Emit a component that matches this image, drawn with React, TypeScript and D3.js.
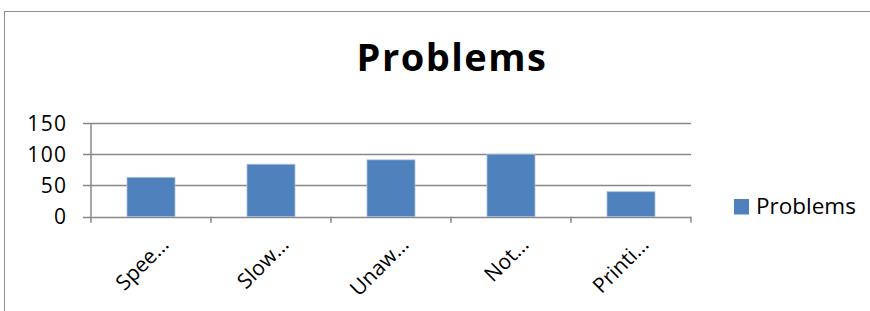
import React from "react";
import * as d3 from "d3";

const categories = ["Spee…", "Slow…", "Unaw…", "Not…", "Printi…"];
const values = [63, 84, 91, 100, 40];
const yTicks = [0, 50, 100, 150];
const seriesName = "Problems";
const title = "Problems";

const W = 870;
const H = 311;
const FONT = "'Open Sans', 'Noto Sans', sans-serif";

export default function App() {
  const x = d3.scaleBand<string>().domain(categories).range([91, 691]).paddingInner(0.6).paddingOuter(0.3);
  const y = d3.scaleLinear().domain([0, 150]).range([216.7, 123]);
  const step = x.step();
  const boundaries = d3.range(categories.length + 1).map((i) => 91 + i * step);
  const grid = "#878787";
  const color = "#4F81BD";

  return (
    <svg width={W} height={H} style={{ position: "absolute", left: 0, top: 0, background: "#fff" }} fontFamily={FONT}>
      <rect x={4.5} y={11.5} width={1000} height={500} fill="#fff" stroke="#8c8c8c" strokeWidth={1} />
      <text x={452} y={71} textAnchor="middle" fontWeight="bold" fontSize={38} letterSpacing={1.5} fill="#000">
        {title}
      </text>
      {yTicks.map((t) => (
        <g key={t}>
          <line x1={83} x2={691} y1={Math.round(y(t)) + 0.5} y2={Math.round(y(t)) + 0.5} stroke={grid} strokeWidth={1.5} />
          <text x={67.3} y={y(t)} dy="0.36em" textAnchor="end" fontSize={21} letterSpacing={1.3} fill="#000">
            {t}
          </text>
        </g>
      ))}
      <line x1={91} x2={91} y1={y(150)} y2={y(0)} stroke={grid} strokeWidth={1.5} />
      {boundaries.map((b, i) => (
        <line key={i} x1={b} x2={b} y1={y(0)} y2={y(0) + 6} stroke={grid} strokeWidth={1.5} />
      ))}
      {categories.map((c, i) => (
        <rect
          key={c}
          x={x(c)!}
          y={y(values[i])}
          width={x.bandwidth()}
          height={y(0) - y(values[i])}
          fill={color}
          stroke="#a9c1e0"
          strokeWidth={0.75}
        />
      ))}
      {categories.map((c) => {
        const cx = x(c)! + x.bandwidth() / 2;
        return (
          <text
            key={c}
            transform={`translate(${cx + 19},${246}) rotate(-45)`}
            textAnchor="end"
            fontSize={21}
            fill="#000"
          >
            {c}
          </text>
        );
      })}
      <rect x={734} y={199} width={15} height={15.5} fill={color} />
      <text x={756} y={213.5} fontSize={22.5} fill="#000">
        {seriesName}
      </text>
    </svg>
  );
}
